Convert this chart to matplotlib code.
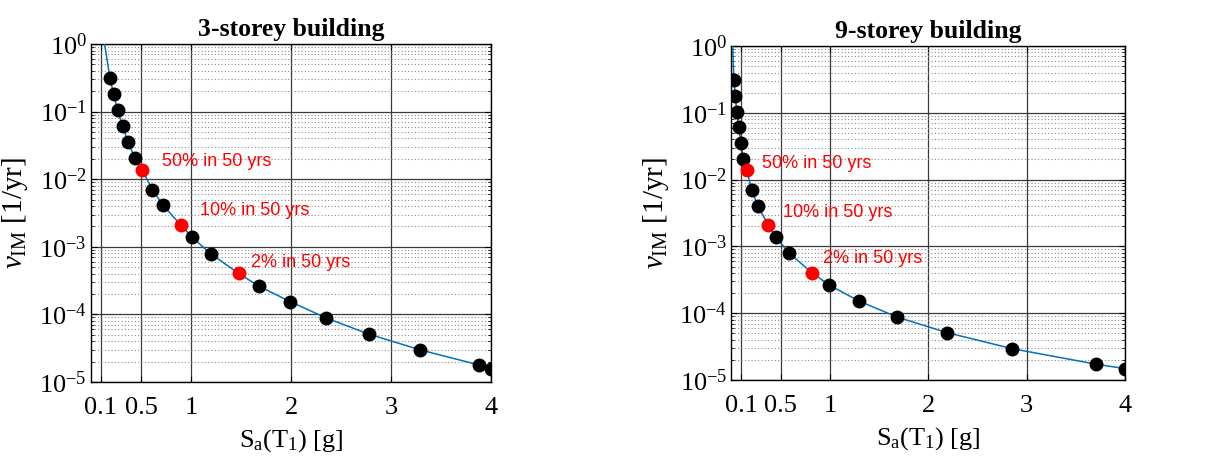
import numpy as np
import matplotlib
matplotlib.use("Agg")
import matplotlib.pyplot as plt
from matplotlib.ticker import LogFormatterMathtext, LogLocator, NullFormatter

plt.rcParams["font.family"] = ["Liberation Serif", "DejaVu Serif"]
plt.rcParams["mathtext.fontset"] = "custom"
plt.rcParams["mathtext.rm"] = "Liberation Serif"
plt.rcParams["mathtext.it"] = "Liberation Serif:italic"

# --------------------------------------------------
# Data
# --------------------------------------------------
titles = ["3-storey building", "9-storey building"]

sa_3 = [0.19, 0.226, 0.266, 0.316, 0.37, 0.44, 0.613, 0.723, 1.013, 1.196,
        1.676, 1.99, 2.346, 2.776, 3.286, 3.883, 4.0]
rate_3 = [0.31, 0.182, 0.105, 0.0612, 0.0352, 0.0205, 0.0070, 0.0041, 0.00138,
          0.00079, 0.000263, 0.000155, 0.0000892, 0.0000512, 0.0000300,
          0.0000178, 0.0000158]
curve_sa_3 = [0.136, 0.19, 0.226, 0.266, 0.316, 0.37, 0.44, 0.51, 0.613, 0.723,
              0.896, 1.013, 1.196, 1.476, 1.676, 1.99, 2.346, 2.776, 3.286,
              3.883, 4.0]
curve_rate_3 = [1.0, 0.31, 0.182, 0.105, 0.0612, 0.0352, 0.0205, 0.0139, 0.0070,
                0.0041, 0.0021, 0.00138, 0.00079, 0.000404, 0.000263, 0.000155,
                0.0000892, 0.0000512, 0.0000300, 0.0000178, 0.0000158]

sa_9 = [0.025, 0.039, 0.053, 0.073, 0.097, 0.12, 0.208, 0.269, 0.452, 0.587,
        0.994, 1.296, 1.682, 2.19, 2.85, 3.70, 4.0]
rate_9 = [0.31, 0.18, 0.104, 0.0607, 0.0349, 0.020, 0.0069, 0.0040, 0.00137,
          0.00079, 0.000264, 0.000152, 0.0000877, 0.0000512, 0.0000295,
          0.0000173, 0.0000148]
curve_sa_9 = [0.012, 0.025, 0.039, 0.053, 0.073, 0.097, 0.12, 0.154, 0.208,
              0.269, 0.374, 0.452, 0.587, 0.818, 0.994, 1.296, 1.682, 2.19,
              2.85, 3.70, 4.0]
curve_rate_9 = [1.0, 0.31, 0.18, 0.104, 0.0607, 0.0349, 0.020, 0.0139, 0.0069,
                0.0040, 0.0021, 0.00137, 0.00079, 0.000404, 0.000264, 0.000152,
                0.0000877, 0.0000512, 0.0000295, 0.0000173, 0.0000148]

# design levels (red)
level_labels = ["50% in 50 yrs", "10% in 50 yrs", "2% in 50 yrs"]
level_rate = [0.0139, 0.0021, 0.000404]
level_sa_3 = [0.51, 0.896, 1.476]
level_sa_9 = [0.154, 0.374, 0.818]
label_pos_3 = [(0.71, 0.018), (1.093, 0.0035), (1.60, 0.00059)]
label_pos_9 = [(0.313, 0.0175), (0.527, 0.0032), (0.927, 0.00066)]

xticks = [0.1, 0.5, 1, 2, 3, 4]
xtick_labels = ["0.1", "0.5", "1", "2", "3", "4"]

# --------------------------------------------------
# Plot
# --------------------------------------------------
fig = plt.figure(figsize=(12.10, 4.62), dpi=100)
ax1 = fig.add_axes([0.0752, 0.1732, 0.3306, 0.7316])
ax2 = fig.add_axes([0.6045, 0.1775, 0.3253, 0.7229])

panels = [
    (ax1, curve_sa_3, curve_rate_3, sa_3, rate_3, level_sa_3, label_pos_3),
    (ax2, curve_sa_9, curve_rate_9, sa_9, rate_9, level_sa_9, label_pos_9),
]

for i, (ax, csa, crate, sa, rate, lsa, lpos) in enumerate(panels):
    ax.plot(csa, crate, color="#0072BD", lw=1.1, zorder=3)
    ax.plot(sa, rate, "o", color="black", ms=9, zorder=4)
    ax.plot(lsa, level_rate, "o", color="red", ms=9, zorder=5)
    for lab, (tx, ty) in zip(level_labels, lpos):
        ax.text(tx, ty, lab, color="red", fontsize=13,
                family=["Liberation Sans", "DejaVu Sans"], va="center", ha="left")

    ax.set_yscale("log")
    ax.set_xlim(0, 4)
    ax.set_ylim(1e-5, 1)
    ax.set_xticks(xticks)
    ax.set_xticklabels(xtick_labels)
    ax.yaxis.set_major_locator(LogLocator(base=10, numticks=10))
    ax.yaxis.set_minor_locator(LogLocator(base=10, subs=np.arange(2, 10), numticks=20))
    ax.yaxis.set_major_formatter(LogFormatterMathtext())
    ax.yaxis.set_minor_formatter(NullFormatter())

    ax.grid(True, which="major", color="#3a3a3a", lw=0.9, ls="-")
    ax.grid(True, which="minor", axis="y", color="#8a8a8a", lw=0.8, ls=(0, (1, 2)))
    ax.set_axisbelow(True)

    ax.tick_params(which="major", direction="in", length=4, labelsize=19,
                   top=True, right=True)
    ax.tick_params(axis="x", which="major", pad=11)
    ax.tick_params(axis="y", which="major", pad=3)
    ax.tick_params(which="minor", direction="in", length=2.5, right=True)
    for sp in ax.spines.values():
        sp.set_color("black")
        sp.set_linewidth(1.0)

    ax.set_title(titles[i], fontsize=18.5, fontweight="bold", pad=6)
    ax.set_xlabel(r"S$_\mathrm{a}$(T$_\mathrm{1}$) [g]", fontsize=19, labelpad=6)
    ax.set_ylabel(r"$\nu_\mathrm{IM}$ [1/yr]", fontsize=21, labelpad=6)

fig.savefig("out.png", dpi=100)
